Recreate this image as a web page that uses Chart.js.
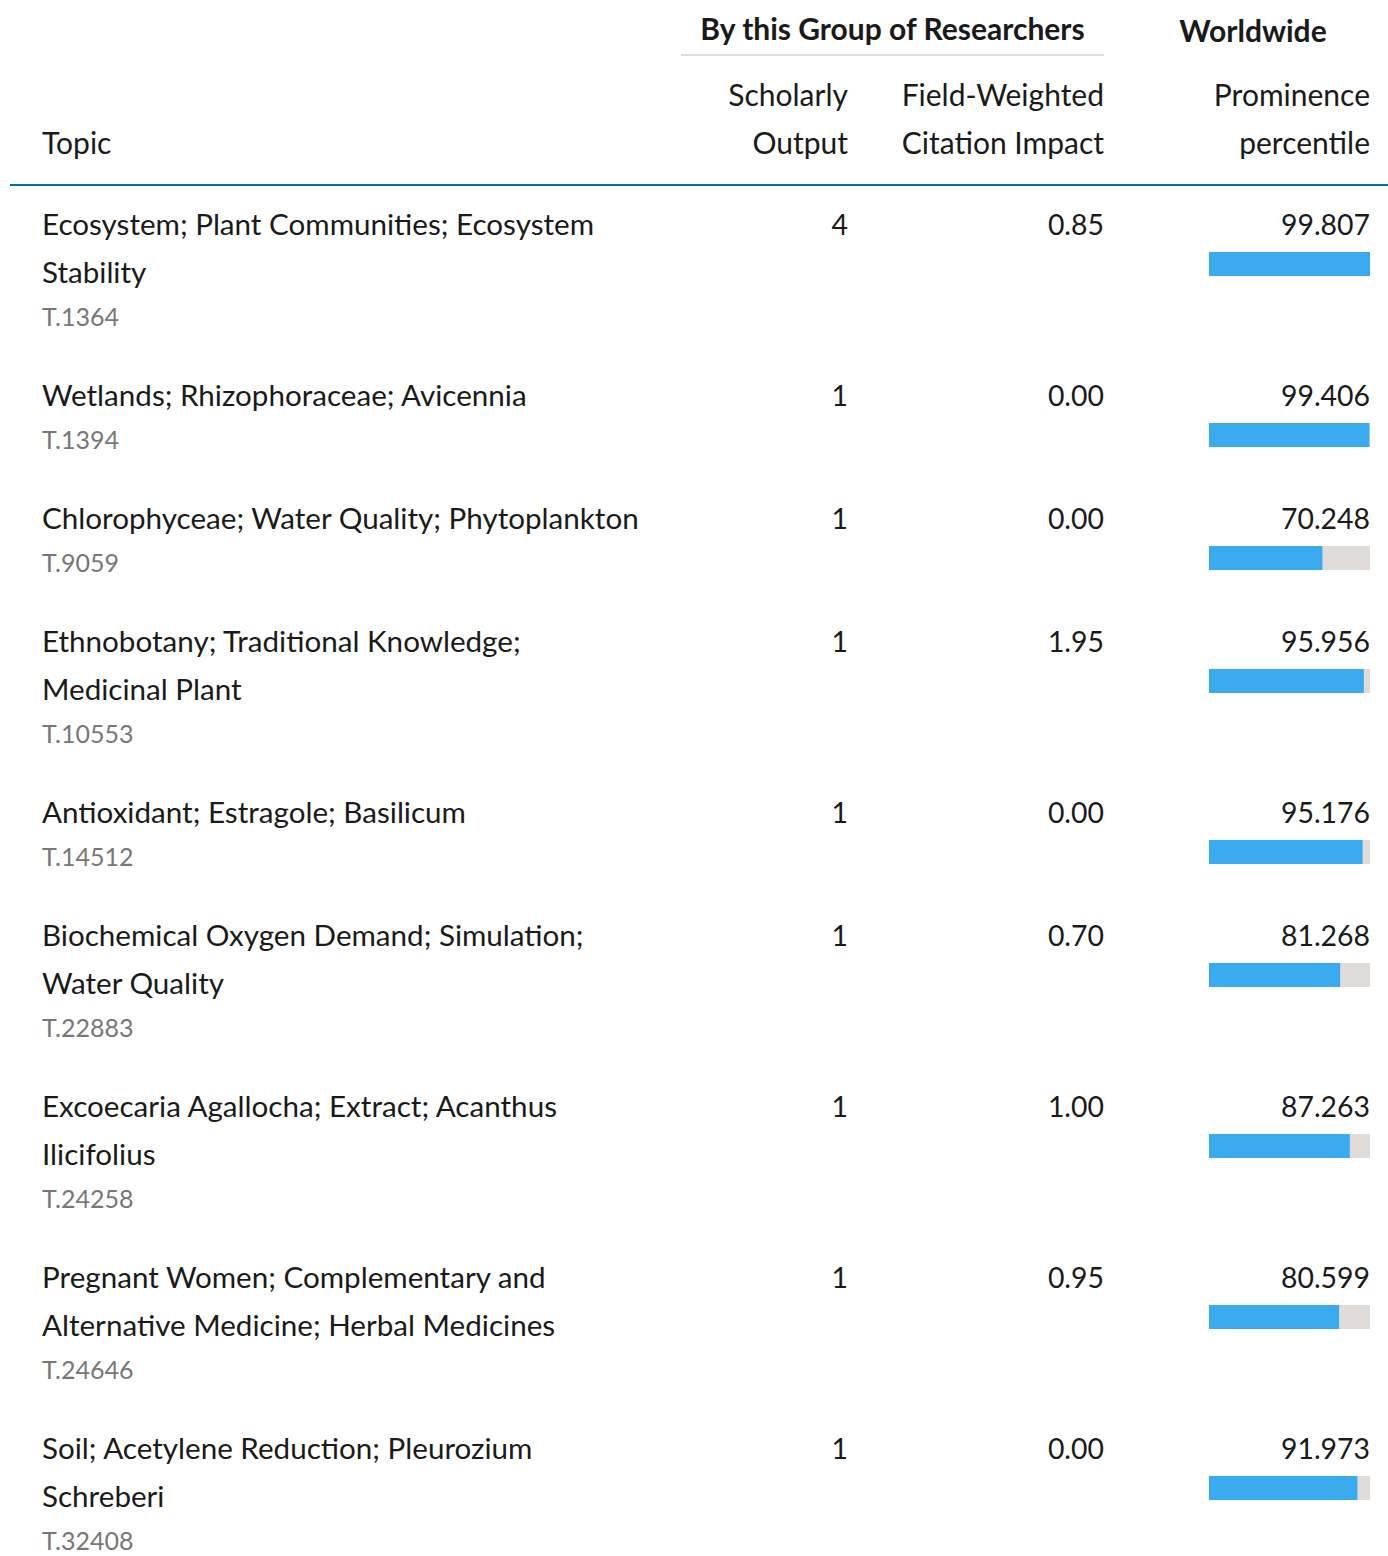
<!DOCTYPE html>
<html>
<head>
<meta charset="utf-8">
<script src="https://cdn.jsdelivr.net/npm/chart.js@4.4.1/dist/chart.umd.min.js"></script>
<style>
  html, body { margin: 0; padding: 0; background: #fff; }
  body { width: 1388px; height: 1556px; position: relative; overflow: hidden;
         font-family: Lato, "Noto Sans", sans-serif; color: #1a1a1a; font-size: 30px; }
  .abs { position: absolute; white-space: nowrap; }
  .hdr { line-height: 48px; }
  .bold { font-weight: 700; }
  #teal { position: absolute; left: 10px; width: 1378px; top: 184px; height: 2px; background: #007398; }
  #grayline { position: absolute; left: 681px; width: 423px; top: 54px; height: 2px; background: #dcdcdc; }
  #rows { position: absolute; left: 0; top: 200px; width: 1388px; }
  .row { position: relative; padding-bottom: 31px; }
  .topic { margin-left: 42px; line-height: 48px; font-size: 29.6px; }
  .code { position: relative; top: -2px; margin-left: 42px; line-height: 44px; color: #777; font-size: 25px; }
  .num { position: absolute; top: 0; line-height: 48px; text-align: right; font-size: 28.4px; }
  .bar { position: absolute; left: 1209px; top: 52px; width: 161px; height: 24px; }
</style>
</head>
<body>
<div id="grayline"></div>
<div id="teal"></div>
<div class="abs hdr bold" style="left:681px;width:423px;text-align:center;top:4px;">By this Group of Researchers</div>
<div class="abs hdr bold" style="left:1136px;width:234px;text-align:center;top:6px;">Worldwide</div>
<div class="abs hdr" style="left:42px;top:118px;">Topic</div>
<div class="abs hdr" style="left:648px;width:200px;text-align:right;top:70px;">Scholarly<br>Output</div>
<div class="abs hdr" style="left:854px;width:250px;text-align:right;top:70px;">Field-Weighted<br>Citation Impact</div>
<div class="abs hdr" style="left:1120px;width:250px;text-align:right;top:70px;">Prominence<br>percentile</div>
<div id="rows"></div>
<script>
const topicLines = [
  ["Ecosystem; Plant Communities; Ecosystem", "Stability"],
  ["Wetlands; Rhizophoraceae; Avicennia"],
  ["Chlorophyceae; Water Quality; Phytoplankton"],
  ["Ethnobotany; Traditional Knowledge;", "Medicinal Plant"],
  ["Antioxidant; Estragole; Basilicum"],
  ["Biochemical Oxygen Demand; Simulation;", "Water Quality"],
  ["Excoecaria Agallocha; Extract; Acanthus", "Ilicifolius"],
  ["Pregnant Women; Complementary and", "Alternative Medicine; Herbal Medicines"],
  ["Soil; Acetylene Reduction; Pleurozium", "Schreberi"]
];
const topicCodes = ["T.1364", "T.1394", "T.9059", "T.10553", "T.14512", "T.22883", "T.24258", "T.24646", "T.32408"];
const scholarlyOutput = [4, 1, 1, 1, 1, 1, 1, 1, 1];
const fwci = [0.85, 0.00, 0.00, 1.95, 0.00, 0.70, 1.00, 0.95, 0.00];
const prominence = [99.807, 99.406, 70.248, 95.956, 95.176, 81.268, 87.263, 80.599, 91.973];

const BLUE = "#3aaaee";
const TRACK = "#dedbd9";

const rowsEl = document.getElementById("rows");
topicLines.forEach((lines, i) => {
  const row = document.createElement("div");
  row.className = "row";
  const t = document.createElement("div");
  t.className = "topic";
  t.innerHTML = lines.join("<br>");
  row.appendChild(t);
  const c = document.createElement("div");
  c.className = "code";
  c.textContent = topicCodes[i];
  row.appendChild(c);

  const so = document.createElement("div");
  so.className = "num";
  so.style.left = "700px"; so.style.width = "148px";
  so.textContent = String(scholarlyOutput[i]);
  row.appendChild(so);

  const fw = document.createElement("div");
  fw.className = "num";
  fw.style.left = "900px"; fw.style.width = "204px";
  fw.textContent = fwci[i].toFixed(2);
  row.appendChild(fw);

  const pr = document.createElement("div");
  pr.className = "num";
  pr.style.left = "1150px"; pr.style.width = "220px";
  pr.textContent = prominence[i].toFixed(3);
  row.appendChild(pr);

  const wrap = document.createElement("div");
  wrap.className = "bar";
  const cv = document.createElement("canvas");
  cv.width = 161; cv.height = 24;
  wrap.appendChild(cv);
  row.appendChild(wrap);
  rowsEl.appendChild(row);

  new Chart(cv, {
    type: "bar",
    data: {
      labels: [topicCodes[i]],
      datasets: [
        { data: [prominence[i]], backgroundColor: BLUE, borderWidth: 0 },
        { data: [100 - prominence[i]], backgroundColor: TRACK, borderWidth: 0 }
      ]
    },
    options: {
      indexAxis: "y",
      responsive: false,
      maintainAspectRatio: false,
      animation: false,
      events: [],
      layout: { padding: 0 },
      datasets: { bar: { barPercentage: 1, categoryPercentage: 1, borderSkipped: false } },
      scales: {
        x: { stacked: true, min: 0, max: 100, display: false },
        y: { stacked: true, display: false }
      },
      plugins: { legend: { display: false }, tooltip: { enabled: false } }
    }
  });
});
</script>
</body>
</html>
